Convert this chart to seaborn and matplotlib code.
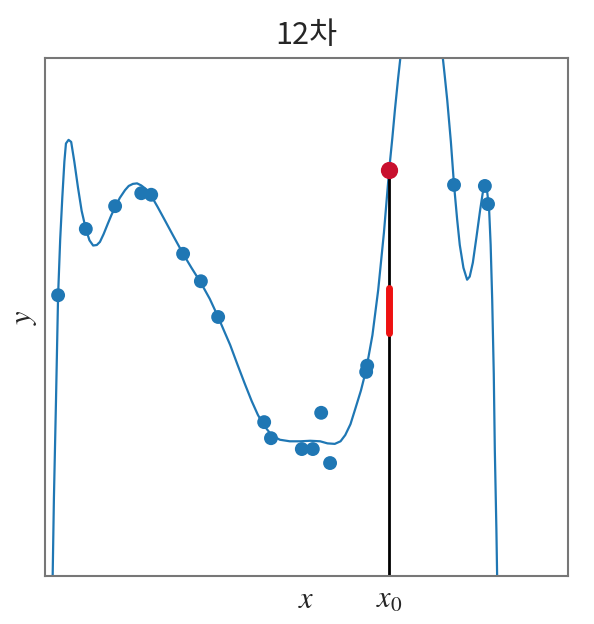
import numpy as np
import pandas as pd
import matplotlib
matplotlib.use("Agg")
import matplotlib.pyplot as plt
import seaborn as sns

# --- data (axes units 0..10) ---
pts_x = [0.25, 0.78, 1.34, 1.84, 2.03, 2.64, 2.98, 3.31, 4.19, 4.32,
         4.91, 5.12, 5.28, 5.45, 6.14, 6.16, 7.82, 8.41, 8.47]
pts_y = [5.42, 6.70, 7.14, 7.39, 7.36, 6.22, 5.69, 5.00, 2.97, 2.66,
         2.45, 2.45, 3.15, 2.18, 3.94, 4.06, 7.55, 7.53, 7.18]

curve_x = [0.13, 0.17, 0.21, 0.25, 0.29, 0.33, 0.37, 0.40, 0.45, 0.50,
           0.56, 0.63, 0.70, 0.78, 0.85, 0.92, 0.99, 1.05, 1.12, 1.20,
           1.27, 1.34, 1.43, 1.53, 1.60, 1.68, 1.76, 1.84, 1.93, 2.03,
           2.15, 2.29, 2.45, 2.64, 2.80, 2.98, 3.15, 3.31, 3.42, 3.54,
           3.68, 3.82, 3.95, 4.07, 4.19, 4.30, 4.40, 4.49, 4.68, 4.88,
           5.07, 5.26, 5.40, 5.54, 5.65, 5.74, 5.84, 5.93, 6.04, 6.14,
           6.26, 6.37, 6.48, 6.58, 6.64, 6.69, 6.75, 6.81,
           7.59, 7.64, 7.69, 7.76, 7.82, 7.88, 7.93, 8.00, 8.07, 8.12,
           8.18, 8.25, 8.32, 8.37, 8.41, 8.45, 8.49, 8.52, 8.55, 8.58,
           8.60, 8.63, 8.66]
curve_y = [-1.00, 1.50, 3.40, 5.42, 6.50, 7.30, 8.00, 8.35, 8.42, 8.38,
           8.00, 7.50, 7.05, 6.70, 6.48, 6.38, 6.39, 6.45, 6.60, 6.80,
           6.97, 7.12, 7.30, 7.45, 7.53, 7.57, 7.58, 7.54, 7.47, 7.34,
           7.13, 6.87, 6.57, 6.22, 5.95, 5.66, 5.35, 5.00, 4.74, 4.46,
           4.08, 3.71, 3.38, 3.11, 2.90, 2.76, 2.68, 2.63, 2.60, 2.60,
           2.61, 2.60, 2.56, 2.55, 2.60, 2.72, 2.93, 3.22, 3.58, 3.98,
           4.65, 5.52, 6.63, 7.84, 8.45, 9.00, 9.60, 10.15,
           10.15, 9.68, 9.19, 8.38, 7.55, 6.88, 6.39, 5.95, 5.72, 5.78,
           6.05, 6.55, 7.07, 7.40, 7.53, 7.45, 7.10, 6.40, 5.33, 3.90,
           2.43, 0.90, -1.00]

x0 = 6.58
y0 = 7.84
seg_y = [4.69, 5.56]
x_tick = 5.0

sns.set_theme(style="white")
plt.rcParams["mathtext.fontset"] = "stix"
plt.rcParams["font.family"] = ["Noto Sans CJK KR", "DejaVu Sans"]

fig = plt.figure(figsize=(5.94, 6.24), dpi=100)
ax = fig.add_axes([0.0758, 0.077, 0.8805, 0.830])

curve = pd.DataFrame({"x": curve_x, "y": curve_y})
pts = pd.DataFrame({"x": pts_x, "y": pts_y})

sns.lineplot(data=curve, x="x", y="y", sort=False, color="#1f77b4", lw=1.6, ax=ax)
sns.scatterplot(data=pts, x="x", y="y", color="#1f77b4", s=100, edgecolor="none", ax=ax, zorder=3)

ax.plot([x0, x0], [-1, y0], color="black", lw=2, zorder=2)
ax.plot([x0, x0], seg_y, color="#ee1111", lw=5, zorder=4)
ax.scatter([x0], [y0], color="#c8102e", s=130, zorder=5)

ax.set_xlim(0, 10)
ax.set_ylim(0, 10)
ax.set_xticks([x_tick, x0])
ax.set_xticklabels(["$x$", "$x_0$"], fontsize=22)
ax.set_yticks([])
ax.tick_params(axis="x", length=0, pad=6)
ax.set_xlabel("")
ax.set_ylabel("$y$", fontsize=22, labelpad=4)
ax.set_title("12차", fontsize=22, pad=10)
for s in ax.spines.values():
    s.set_color("#777777")
    s.set_linewidth(1.5)

fig.savefig("out.png", dpi=100)
